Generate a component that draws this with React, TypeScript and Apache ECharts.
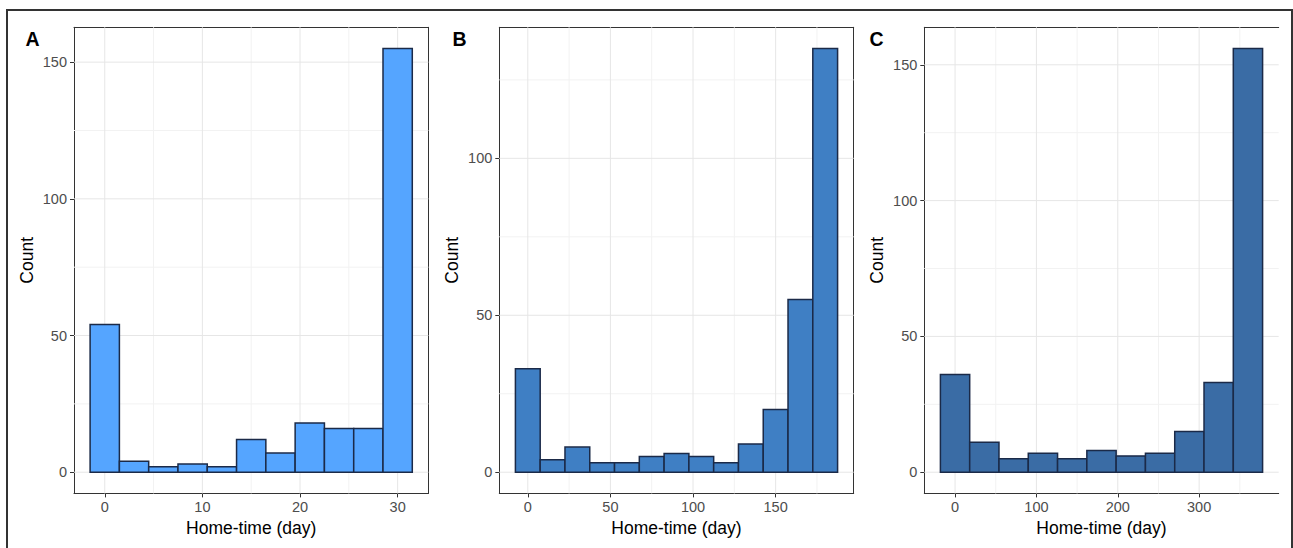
import React, { useEffect, useRef } from "react";
import * as echarts from "echarts";

// ---- Data ----
const binCentersA = [0, 3, 6, 9, 12, 15, 18, 21, 24, 27, 30];
const countsA = [54, 4, 2, 3, 2, 12, 7, 18, 16, 16, 155];
const binWidthA = 3;

const binCentersB = [0, 15, 30, 45, 60, 75, 90, 105, 120, 135, 150, 165, 180];
const countsB = [33, 4, 8, 3, 3, 5, 6, 5, 3, 9, 20, 55, 135];
const binWidthB = 15;

const binCentersC = [0, 36, 72, 108, 144, 180, 216, 252, 288, 324, 360];
const countsC = [36, 11, 5, 7, 5, 8, 6, 7, 15, 33, 156];
const binWidthC = 36;

const xTicksA = [0, 10, 20, 30];
const xMinorA = [5, 15, 25];
const xTicksB = [0, 50, 100, 150];
const xMinorB = [25, 75, 125, 175];
const xTicksC = [0, 100, 200, 300];
const xMinorC = [50, 150, 250, 350];

const yTicksA = [0, 50, 100, 150];
const yTicksB = [0, 50, 100];
const yTicksC = [0, 50, 100, 150];
const yMinor = [25, 75, 125];

const panelLabels = ["A", "B", "C"];
const xTitle = "Home-time (day)";
const yTitle = "Count";

const FONT = "'Liberation Sans', Arial, Helvetica, sans-serif";

function expand(lo: number, hi: number) {
  const r = hi - lo;
  return [lo - r * 0.05, hi + r * 0.05];
}

export default function App() {
  const ref = useRef<HTMLDivElement>(null);

  useEffect(() => {
    if (!ref.current) return;
    const chart = echarts.init(ref.current, undefined, { renderer: "svg" });

    const panels = [
      { centers: binCentersA, counts: countsA, w: binWidthA, xt: xTicksA, xm: xMinorA, yt: yTicksA, fill: "#55A5FF", left: 74, showRight: true },
      { centers: binCentersB, counts: countsB, w: binWidthB, xt: xTicksB, xm: xMinorB, yt: yTicksB, fill: "#3F7FC4", left: 499.3, showRight: true },
      { centers: binCentersC, counts: countsC, w: binWidthC, xt: xTicksC, xm: xMinorC, yt: yTicksC, fill: "#3A6CA5", left: 924.3, showRight: false },
    ];

    const grids: any[] = [];
    const xAxes: any[] = [];
    const yAxes: any[] = [];
    const series: any[] = [];

    panels.forEach((p, i) => {
      const xr = expand(p.centers[0] - p.w / 2, p.centers[p.centers.length - 1] + p.w / 2);
      const maxC = Math.max(...p.counts);
      const yr = expand(0, maxC);
      grids.push({
        left: p.left,
        top: 27.3,
        width: 354.4,
        height: 466.1,
        show: false,
      });
      const axisLineStyle = { color: "#333333", width: 1 };
      xAxes.push({
        type: "value",
        gridIndex: i,
        min: xr[0],
        max: xr[1],
        position: "bottom",
        axisLine: { show: true, onZero: false, lineStyle: axisLineStyle },
        axisTick: { show: true, length: 4, customValues: p.xt, lineStyle: { color: "#333333", width: 1 } },
        axisLabel: { show: true, customValues: p.xt, color: "#4D4D4D", fontSize: 14.5, fontFamily: FONT, margin: 6 },
        splitLine: { show: false },
        name: xTitle,
        nameLocation: "middle",
        nameGap: 20,
        nameTextStyle: { color: "#000000", fontSize: 17.5, fontFamily: FONT },
      });
      // top border
      xAxes.push({
        type: "value",
        gridIndex: i,
        min: xr[0],
        max: xr[1],
        position: "top",
        axisLine: { show: true, onZero: false, lineStyle: axisLineStyle },
        axisTick: { show: false },
        axisLabel: { show: false },
        splitLine: { show: false },
      });
      yAxes.push({
        type: "value",
        gridIndex: i,
        min: yr[0],
        max: yr[1],
        position: "left",
        axisLine: { show: true, onZero: false, lineStyle: axisLineStyle },
        axisTick: { show: true, length: 4, customValues: p.yt, lineStyle: { color: "#333333", width: 1 } },
        axisLabel: { show: true, customValues: p.yt, color: "#4D4D4D", fontSize: 14.5, fontFamily: FONT, margin: 7 },
        splitLine: { show: false },
        name: yTitle,
        nameLocation: "middle",
        nameGap: 38,
        nameTextStyle: { color: "#000000", fontSize: 17.5, fontFamily: FONT },
      });
      yAxes.push({
        type: "value",
        gridIndex: i,
        min: yr[0],
        max: yr[1],
        position: "right",
        axisLine: { show: p.showRight, onZero: false, lineStyle: axisLineStyle },
        axisTick: { show: false },
        axisLabel: { show: false },
        splitLine: { show: false },
      });
      const xAxisIndex = i * 2;
      const yAxisIndex = i * 2;

      const vLine = (color: string) => (params: any, api: any) => {
        const cs = params.coordSys;
        const x = api.coord([api.value(0), 0])[0];
        return {
          type: "line",
          shape: { x1: x, y1: cs.y, x2: x, y2: cs.y + cs.height },
          style: { stroke: color, lineWidth: 1 },
        };
      };
      const hLine = (color: string) => (params: any, api: any) => {
        const cs = params.coordSys;
        const y = api.coord([xr[0], api.value(1)])[1];
        return {
          type: "line",
          shape: { x1: cs.x, y1: y, x2: cs.x + cs.width, y2: y },
          style: { stroke: color, lineWidth: 1 },
        };
      };
      const minorColor = "#F2F2F2";
      const majorColor = "#E6E6E6";
      series.push({
        type: "custom", xAxisIndex, yAxisIndex, z: 1, silent: true,
        data: p.xm.map((v) => [v, 0]), renderItem: vLine(minorColor),
      });
      series.push({
        type: "custom", xAxisIndex, yAxisIndex, z: 1, silent: true,
        data: yMinor.filter((v) => v < yr[1]).map((v) => [0, v]), renderItem: hLine(minorColor),
      });
      series.push({
        type: "custom", xAxisIndex, yAxisIndex, z: 2, silent: true,
        data: p.xt.map((v) => [v, 0]), renderItem: vLine(majorColor),
      });
      series.push({
        type: "custom", xAxisIndex, yAxisIndex, z: 2, silent: true,
        data: p.yt.map((v) => [0, v]), renderItem: hLine(majorColor),
      });
      series.push({
        type: "custom",
        xAxisIndex,
        yAxisIndex,
        z: 5,
        data: p.centers.map((c, k) => [c, p.counts[k]]),
        renderItem: (params: any, api: any) => {
          const c = api.value(0);
          const n = api.value(1);
          const a = api.coord([c - p.w / 2, n]);
          const b = api.coord([c + p.w / 2, 0]);
          return {
            type: "rect",
            shape: { x: a[0], y: a[1], width: b[0] - a[0], height: b[1] - a[1] },
            style: { fill: p.fill, stroke: "#1B2A48", lineWidth: 1.5 },
          };
        },
      });
    });

    const labelPos = [25.5, 452.5, 869.5];
    const graphic: any[] = [
      {
        type: "rect",
        shape: { x: 7, y: 10, width: 1285, height: 600 },
        style: { fill: "none", stroke: "#333333", lineWidth: 2 },
        silent: true,
        z: 100,
      },
      ...panelLabels.map((t, i) => ({
        type: "text",
        x: labelPos[i],
        y: 38.5,
        style: { text: t, fontSize: 19.5, fontWeight: "bold", fontFamily: FONT, fill: "#000000", verticalAlign: "middle", align: "left" },
        z: 100,
      })),
    ];

    chart.setOption({
      animation: false,
      backgroundColor: "#ffffff",
      grid: grids,
      xAxis: xAxes,
      yAxis: yAxes,
      series,
      graphic,
    });

    return () => chart.dispose();
  }, []);

  return (
    <div
      ref={ref}
      style={{ position: "fixed", left: 0, top: 0, width: 1293, height: 548 }}
    />
  );
}
